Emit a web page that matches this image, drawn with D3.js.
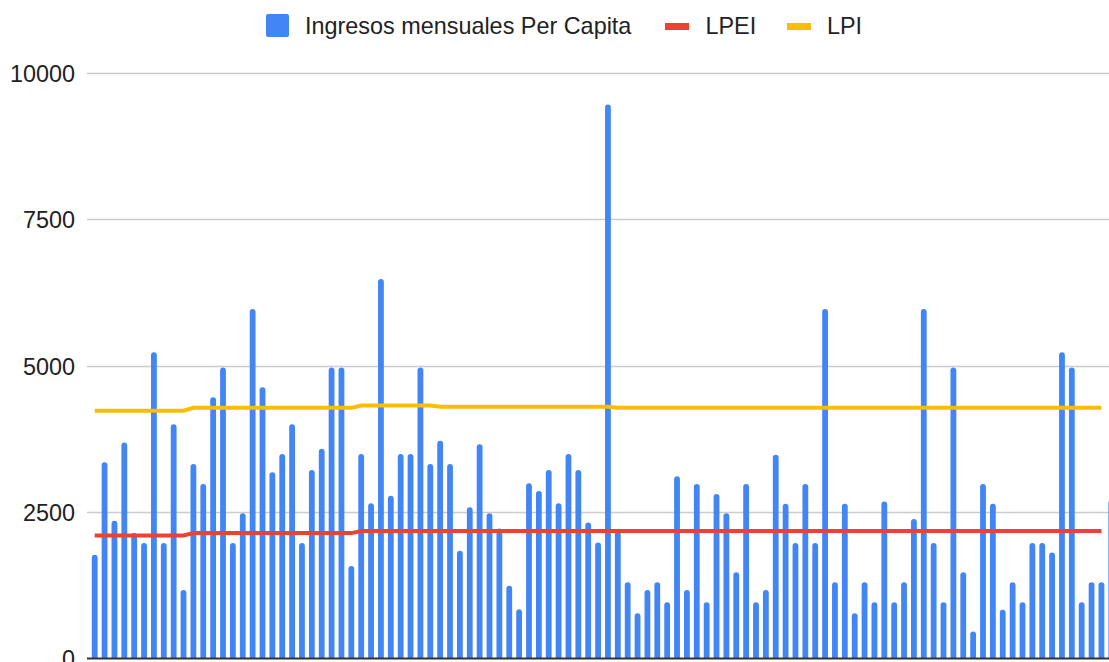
<!DOCTYPE html>
<html>
<head>
<meta charset="utf-8">
<script src="https://cdn.jsdelivr.net/npm/d3@7"></script>
<style>
  html, body { margin: 0; padding: 0; background: #fff; overflow: hidden; }
  svg { display: block; font-family: "Liberation Sans", Arial, sans-serif; }
</style>
</head>
<body>
<svg id="chart" width="1109" height="662"></svg>
<script>
// ---- Data ----
const ingresos = [
  1770, 3350, 2350, 3690, 2140, 1970, 5230, 1970, 4000, 1170,
  3320, 2980, 4460, 4970, 1970, 2480, 5970, 4630, 3180, 3490,
  4000, 1970, 3220, 3580, 4970, 4970, 1580, 3490, 2650, 6480,
  2780, 3490, 3490, 4970, 3320, 3720, 3320, 1840, 2580, 3660,
  2480, 2220, 1240, 840, 2990, 2860, 3220, 2650, 3490, 3220,
  2320, 1980, 9460, 2180, 1300, 770, 1170, 1300, 960, 3110,
  1170, 2980, 960, 2810, 2480, 1470, 2980, 960, 1170, 3480,
  2640, 1970, 2980, 1970, 5970, 1300, 2640, 770, 1300, 960,
  2680, 960, 1300, 2380, 5970, 1970, 960, 4970, 1470, 460,
  2980, 2640, 830, 1300, 960, 1970, 1970, 1810, 5230, 4970,
  960, 1300, 1300, 2700
];
const categories = ingresos.map((d, i) => String(i + 1));

// Poverty lines (per category); last category has no line value
const lpei = categories.map((c, i) => i >= 103 ? null : (i < 10 ? 2100 : (i < 27 ? 2140 : 2175)));
const lpi = categories.map((c, i) => {
  if (i >= 103) return null;
  if (i < 10) return 4230;
  if (i < 27) return 4280;
  if (i < 35) return 4320;
  if (i < 53) return 4300;
  return 4280;
});

const yTicks = [0, 2500, 5000, 7500, 10000];
const seriesNames = ["Ingresos mensuales Per Capita", "LPEI", "LPI"];
const colors = ["#4285f4", "#ea4335", "#fbbc04"];

// ---- Layout ----
const svg = d3.select("#chart");
const plotLeft = 87;
const step = 9.87;
const firstCenter = 94.7;
const fs = "23.4px";
const x = d3.scaleBand()
  .domain(categories)
  .range([firstCenter - step / 2, firstCenter - step / 2 + step * categories.length])
  .paddingInner(0.42)
  .paddingOuter(0.21);
const y = d3.scaleLinear().domain([0, 10000]).range([658.4, 73.0]);

// Gridlines
svg.append("g").selectAll("line").data(yTicks.filter(t => t > 0)).join("line")
  .attr("x1", plotLeft).attr("x2", 1109)
  .attr("y1", d => Math.round(y(d)) + 0.5).attr("y2", d => Math.round(y(d)) + 0.5)
  .attr("stroke", "#cccccc").attr("stroke-width", 1.3);

// Y axis labels
const yAxis = d3.axisLeft(y).tickValues(yTicks).tickSize(0).tickPadding(0).tickFormat(d3.format("d"));
const ga = svg.append("g").attr("transform", "translate(75,0)").call(yAxis);
ga.select(".domain").remove();
ga.selectAll("text")
  .attr("fill", "#222").attr("font-size", fs)
  .attr("font-family", "'Liberation Sans', Arial, sans-serif")
  .attr("dy", "0.36em");

// Bars with rounded tops
const bw = 5.8;
const r = bw / 2;
svg.append("g").selectAll("path").data(ingresos).join("path")
  .attr("fill", colors[0])
  .attr("d", (d, i) => {
    const cx = x(categories[i]) + x.bandwidth() / 2;
    const x0 = cx - bw / 2, x1 = cx + bw / 2;
    const yt = y(d), yb = y(0);
    return `M${x0},${yb}L${x0},${yt + r}A${r},${r} 0 0 1 ${x1},${yt + r}L${x1},${yb}Z`;
  });

// Lines
const line = d3.line()
  .defined(d => d.v != null)
  .x(d => x(d.c) + x.bandwidth() / 2)
  .y(d => y(d.v));
[[lpei, colors[1]], [lpi, colors[2]]].forEach(([vals, col]) => {
  svg.append("path")
    .datum(categories.map((c, i) => ({ c, v: vals[i] })))
    .attr("fill", "none").attr("stroke", col).attr("stroke-width", 4)
    .attr("d", line);
});

// Baseline
svg.append("line")
  .attr("x1", plotLeft).attr("x2", 1109)
  .attr("y1", 658.5).attr("y2", 658.5)
  .attr("stroke", "#333").attr("stroke-width", 2);

// Legend
const lg = svg.append("g").attr("font-size", fs).attr("fill", "#222");
lg.append("rect").attr("x", 266).attr("y", 14).attr("width", 23).attr("height", 23).attr("rx", 2).attr("fill", colors[0]);
lg.append("text").attr("x", 305).attr("y", 25.5).attr("dy", "0.36em").text(seriesNames[0]);
lg.append("rect").attr("x", 665).attr("y", 23).attr("width", 24).attr("height", 7).attr("fill", colors[1]);
lg.append("text").attr("x", 705.5).attr("y", 25.5).attr("dy", "0.36em").text(seriesNames[1]);
lg.append("rect").attr("x", 787).attr("y", 23).attr("width", 24).attr("height", 7).attr("fill", colors[2]);
lg.append("text").attr("x", 827).attr("y", 25.5).attr("dy", "0.36em").text(seriesNames[2]);
</script>
</body>
</html>
